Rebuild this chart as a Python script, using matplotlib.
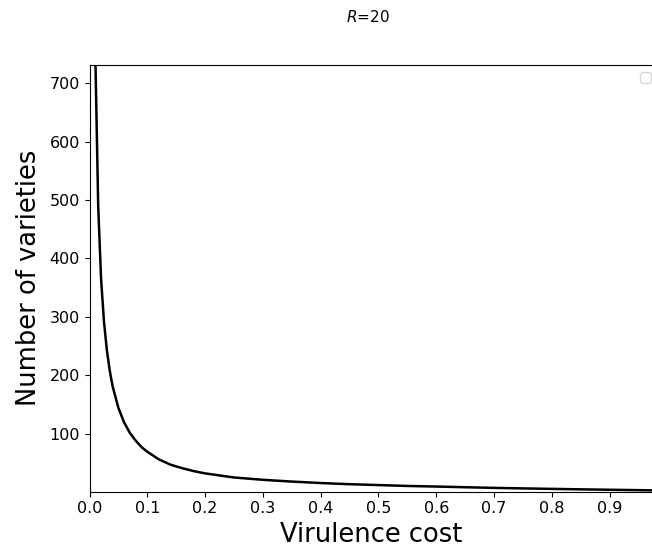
import matplotlib
matplotlib.use("Agg")
import matplotlib.pyplot as plt

# virulence cost vs number of varieties
cost = [0.005, 0.01, 0.015, 0.02, 0.025, 0.03, 0.035, 0.04, 0.05, 0.06,
        0.07, 0.08, 0.09, 0.10, 0.12, 0.14, 0.16, 0.18, 0.20, 0.25,
        0.30, 0.35, 0.40, 0.45, 0.50, 0.55, 0.60, 0.65, 0.70, 0.75,
        0.80, 0.85, 0.90, 0.95, 1.00]
varieties = [1480, 750, 490, 365, 292, 243, 208, 181, 144, 119,
             101, 88, 77, 69, 56, 47, 41, 36, 32, 25,
             21, 18, 15.5, 13.5, 12, 10.5, 9.5, 8.3, 7.2, 6.3,
             5.5, 4.7, 4.0, 3.3, 2.6]
xticks = [0.0, 0.1, 0.2, 0.3, 0.4, 0.5, 0.6, 0.7, 0.8, 0.9]
yticks = [100, 200, 300, 400, 500, 600, 700]

fig = plt.figure(figsize=(6.52, 5.52), dpi=100)
ax = fig.add_axes([0.1373, 0.1096, 0.8627, 0.7726])

ax.plot(cost, varieties, color="black", linewidth=1.8)

ax.set_xlim(0, 0.9735)
ax.set_ylim(1, 731)
ax.set_xticks(xticks)
ax.set_yticks(yticks)
ax.tick_params(labelsize=11.5)
ax.spines["right"].set_visible(False)

ax.set_xlabel("Virulence cost", fontsize=18.5, labelpad=4)
ax.set_ylabel("Number of varieties", fontsize=18.5, labelpad=5)

fig.text(0.564, 0.969, "$R$=20", ha="center", va="center", fontsize=11)

# empty legend box, cut off by the right edge as in the reference
ax.legend(handles=[], loc="upper left", bbox_to_anchor=(640 / 652, 1 - 72 / 552),
          bbox_transform=fig.transFigure, borderaxespad=0)

fig.savefig("out.png", dpi=100)
